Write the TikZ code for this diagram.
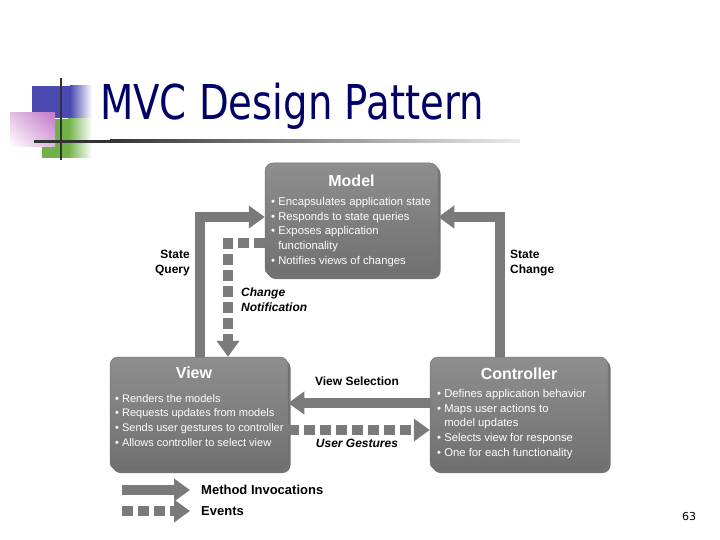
\documentclass[tikz,border=0pt]{standalone}
\usepackage{fontspec}
\setmainfont{Liberation Sans}
\newfontfamily\titlefont{DejaVu Sans}
\usetikzlibrary{arrows.meta,shadows,shadings}
\definecolor{navy}{RGB}{0,0,102}
\definecolor{boxtop}{RGB}{142,142,142}
\definecolor{boxbot}{RGB}{112,112,112}
\definecolor{argray}{RGB}{122,122,122}
\definecolor{logoblue}{RGB}{74,74,176}
\definecolor{logogreen}{RGB}{112,178,72}
\definecolor{logopink}{RGB}{196,120,200}
\begin{document}
\begin{tikzpicture}[x=1pt,y=-1pt,
  mvcbox/.style={rounded corners=8pt, draw=black!55, line width=0.5pt,
    top color=boxtop, bottom color=boxbot, minimum height=113pt, inner sep=0pt,
    drop shadow={shadow xshift=2.5pt, shadow yshift=-3pt, opacity=0.55, fill=black}},
  btitle/.style={text=white, font=\bfseries\fontsize{16}{18}\selectfont, inner sep=0pt},
  blist/.style={text=white, font=\fontsize{11.3}{14.8}\selectfont, align=left, anchor=north west, inner sep=0pt},
  lbl/.style={font=\bfseries\fontsize{12}{14.5}\selectfont, inner sep=0pt},
  marrow/.style={draw=argray, line width=10pt, -{Triangle[length=16pt,width=22pt]}},
  earrow/.style={draw=argray, line width=10pt, dash pattern=on 11pt off 5pt, -{Triangle[length=16pt,width=22pt]}},
]
\useasboundingbox (0,0) rectangle (720,540);

% logo
\fill[logoblue] (32,86) rectangle (70,118);
\shade[left color=logoblue, right color=white] (70,86) rectangle (92,118);
\fill[logogreen] (42,119) rectangle (68,158);
\shade[left color=logogreen, right color=white] (68,119) rectangle (92,158);
\shade[upper right=logopink, upper left=logopink!45!white, lower right=logopink!55!white, lower left=white] (10,113) rectangle (55,147);
\draw[line width=2.5pt, black!80] (61,78) -- (61,160);
\fill[black!80] (34,139.8) rectangle (110,142.6);
\shade[left color=black!80, right color=black!8] (110,139.8) rectangle (520,142.6);

% title
\node[anchor=base west, text=navy, inner sep=0pt, font=\titlefont\fontsize{48}{50}\selectfont] (title) at (100,120) {\scalebox{0.805}[1]{MVC Design Pattern}};

% boxes
\node[mvcbox, minimum width=173pt] (model) at (351.5,219.5) {};
\node[mvcbox, minimum width=178pt] (view) at (199,413.5) {};
\node[mvcbox, minimum width=178pt] (ctrl) at (519,413.5) {};

\node[btitle] (mt) at (351.5,181) {Model};
\node[btitle] (vt) at (194,373) {View};
\node[btitle] (ct) at (519,374) {Controller};

\node[blist] (ml) at (271,197) {\textbullet\ Encapsulates application state\\
\textbullet\ Responds to state queries\\
\textbullet\ Exposes application\\
\phantom{\textbullet\ }functionality\\
\textbullet\ Notifies views of changes};
\node[blist, font=\fontsize{11}{14.8}\selectfont] (vl) at (115,394) {\textbullet\ Renders the models\\
\textbullet\ Requests updates from models\\
\textbullet\ Sends user gestures to controller\\
\textbullet\ Allows controller to select view};
\node[blist] (cl) at (437,389) {\textbullet\ Defines application behavior\\
\textbullet\ Maps user actions to\\
\phantom{\textbullet\ }model updates\\
\textbullet\ Selects view for response\\
\textbullet\ One for each functionality};

% connector helper coordinates
\coordinate (sqc) at (200,217);
\coordinate (cnc) at (228,243);
\coordinate (scc) at (500,217);
\coordinate (vsc) at (0,403);
\coordinate (ugc) at (0,430);

% connectors
\draw[marrow] (view.north -| sqc) |- (model.west |- sqc);
\draw[earrow] (model.west |- cnc) -| (view.north -| cnc);
\draw[marrow] (ctrl.north -| scc) |- (model.east |- scc);
\draw[marrow] (ctrl.west |- vsc) -- (view.east |- vsc);
\draw[earrow] (view.east |- ugc) -- (ctrl.west |- ugc);

% labels
\node[lbl, align=right, anchor=east] (lsq) at (190,263) {State\\Query};
\node[lbl, align=left, anchor=west] (lcn) at (241,299.5) {\itshape Change\\\itshape Notification};
\node[lbl, align=left, anchor=west] (lsc) at (510,263) {State\\Change};
\node[lbl] (lvs) at (357,381) {View Selection};
\node[lbl] (lug) at (357,443) {\itshape User Gestures};

% legend
\coordinate (l1s) at (122,490);
\coordinate (l1e) at (190,490);
\coordinate (l2s) at (122,511);
\coordinate (l2e) at (190,511);
\draw[marrow] (l1s) -- (l1e);
\draw[earrow] (l2s) -- (l2e);
\node[lbl, anchor=west, font=\bfseries\fontsize{13}{15}\selectfont] (lmi) at (201,490) {Method Invocations};
\node[lbl, anchor=west, font=\bfseries\fontsize{13}{15}\selectfont] (lev) at (201,511) {Events};

% page number
\node[font=\titlefont\fontsize{11}{13}\selectfont, inner sep=0pt] (pg) at (689,516) {63};
\end{tikzpicture}
\end{document}
